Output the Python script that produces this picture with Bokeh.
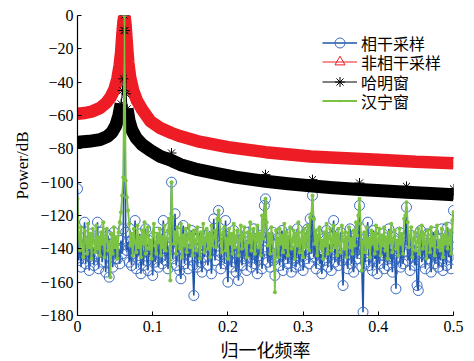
import numpy as np
from bokeh.plotting import figure
from bokeh.models import FixedTicker, Legend, LegendItem, Range1d
from bokeh.embed import file_html
from bokeh.resources import INLINE

# ---------------- data ----------------
n_bins = 321
freq = np.linspace(0, 0.5, n_bins)          # normalized frequency bins

coherent = [
    -104, -147, -133, -151, -141, -138, -124, -149, -136, -144, -153, -131, -146, -139, -150, -134, -143, -124, -152, -137,
    -130, -148, -142, -135, -154, -140, -132, -157, -145, -137, -151, -130, -146, -139, -146, -140, -149, -135, -143, -128,
    0, -130, -141, -136, -148, -139, -150, -134, -143, -123, -152, -138, -144, -131, -155, -136, -150, -141, -128, -147,
    -153, -135, -144, -139, -156, -133, -148, -142, -130, -151, -137, -145, -149, -123, -140, -147, -133, -152, -139, -144,
    -100, -146, -134, -119, -150, -141, -136, -153, -158, -138, -126, -149, -143, -131, -152, -137, -145, -129, -150, -168,
    -140, -134, -151, -143, -130, -148, -154, -136, -145, -139, -132, -150, -142, -135, -155, -138, -122, -147, -141, -133,
    -117, -144, -152, -137, -131, -149, -123, -146, -160, -139, -134, -151, -143, -129, -148, -154, -138, -159, -142, -135,
    -150, -133, -146, -140, -153, -130, -145, -137, -151, -142, -128, -149, -136, -155, -139, -144, -132, -152, -141, -114,
    -110, -139, -148, -134, -151, -143, -130, -147, -156, -137, -145, -133, -150, -140, -129, -153, -138, -146, -135, -149,
    -142, -131, -154, -139, -147, -136, -151, -128, -144, -150, -137, -133, -153, -141, -146, -130, -128, -149, -122, -143,
    -108, -145, -136, -152, -140, -131, -149, -143, -155, -134, -147, -139, -129, -151, -137, -144, -153, -132, -123, -148,
    -141, -135, -150, -144, -130, -147, -162, -138, -145, -133, -152, -140, -128, -149, -136, -154, -142, -131, -146, -139,
    -114, -143, -151, -178, -137, -148, -133, -124, -150, -141, -135, -153, -129, -146, -140, -155, -134, -149, -138, -144,
    -131, -152, -143, -137, -150, -128, -146, -140, -154, -133, -147, -164, -139, -145, -130, -151, -136, -149, -142, -134,
    -115, -147, -138, -153, -132, -145, -141, -150, -136, -162, -165, -139, -129, -148, -143, -135, -152, -140, -131, -146,
    -137, -154, -142, -130, -149, -144, -134, -151, -139, -147, -128, -153, -141, -136, -150, -127, -145, -138, -152, -133,
    -117,
]

hanning = [
    -110, -132, -141, -127, -138, -145, -129, -135, -143, -125, -139, -131, -146, -128, -136, -142, -126, -140, -133, -144,
    -130, -137, -124, -145, -134, -128, -141, -136, -157, -131, -143, -127, -139, -133, -146, -130, -124, -118, -108, -97,
    0, -99, -109, -117, -125, -138, -131, -144, -128, -136, -142, -126, -139, -133, -145, -129, -137, -124, -143, -132,
    -127, -140, -135, -146, -130, -125, -138, -143, -131, -136, -128, -144, -133, -139, -126, -141, -134, -129, -122, -159,
    -100, -121, -137, -130, -143, -127, -135, -140, -125, -145, -132, -138, -128, -142, -134, -126, -139, -131, -144, -129,
    -136, -141, -127, -133, -146, -130, -137, -125, -142, -135, -128, -140, -131, -145, -126, -138, -133, -129, -139, -122,
    -117, -123, -136, -142, -130, -127, -141, -134, -146, -128, -137, -131, -143, -125, -139, -133, -129, -144, -135, -126,
    -140, -132, -127, -138, -145, -130, -136, -124, -141, -133, -128, -143, -135, -126, -139, -131, -144, -120, -134, -121,
    -110, -124, -138, -131, -143, -127, -136, -141, -166, -129, -134, -145, -128, -137, -132, -142, -125, -139, -130, -144,
    -133, -127, -140, -135, -129, -146, -131, -138, -124, -142, -136, -130, -145, -128, -139, -133, -126, -141, -121, -119,
    -108, -122, -137, -129, -144, -132, -127, -140, -135, -146, -130, -138, -125, -143, -133, -128, -141, -136, -126, -139,
    -131, -144, -128, -137, -142, -126, -135, -140, -130, -145, -133, -127, -139, -134, -143, -129, -138, -124, -132, -120,
    -110, -125, -153, -136, -130, -142, -127, -139, -134, -145, -129, -137, -131, -143, -126, -140, -135, -128, -144, -132,
    -138, -127, -141, -133, -146, -130, -136, -125, -142, -134, -129, -140, -135, -144, -128, -137, -131, -143, -122, -120,
    -112, -124, -139, -132, -127, -145, -134, -130, -141, -136, -128, -143, -133, -126, -140, -131, -137, -146, -129, -135,
    -142, -127, -138, -133, -144, -130, -126, -139, -135, -141, -128, -145, -132, -137, -125, -140, -134, -129, -143, -123,
    -118,
]
assert len(coherent) == n_bins and len(hanning) == n_bins

nonco_x = [0.000, 0.010, 0.020, 0.030, 0.038, 0.044, 0.049, 0.053, 0.056,
           0.058, 0.0595, 0.0610, 0.0625, 0.0640, 0.0655, 0.0675, 0.070,
           0.074, 0.079, 0.086, 0.097, 0.110, 0.125, 0.137, 0.160, 0.200,
           0.250, 0.310, 0.350, 0.400, 0.450, 0.500]
nonco_y = [-59, -58.5, -57.5, -55.5, -52.5, -49, -44.5, -38, -30,
           -22, -12, -4, 0, -6, -16, -28, -37,
           -45, -51, -56.5, -63.5, -67.5, -70.5, -72.5, -75.5, -79,
           -82, -84.6, -85.5, -86.5, -87.8, -88.6]

hamming_x = [0.000, 0.015, 0.030, 0.040, 0.046, 0.051, 0.055, 0.058, 0.060,
             0.061, 0.062, 0.0625, 0.063, 0.0645, 0.066, 0.0685, 0.072, 0.078,
             0.086, 0.097, 0.110, 0.125, 0.137, 0.160, 0.1875, 0.210, 0.250,
             0.280, 0.3125, 0.340, 0.375, 0.410, 0.4375, 0.470, 0.500]
hamming_y = [-76, -75.5, -74.5, -72.5, -70, -66, -60, -53, -45,
             -38, -9, 0, -9, -47, -56, -63, -68.5, -73.5,
             -77.5, -81, -84.5, -87, -89.5, -92.5, -95, -97, -99.5,
             -101, -102.3, -103.3, -104.4, -105.3, -106.1, -106.8, -107.5]
# harmonic spurs visible above the Hamming curve
spur_x = [0.125, 0.250, 0.3125, 0.375, 0.4375, 0.500]
spur_y = [-82.5, -95.5, -98.5, -100.5, -102.5, -104]

x_ticks = [0, 0.1, 0.2, 0.3, 0.4, 0.5]
x_tick_labels = ["0", "0.1", "0.2", "0.3", "0.4", "0.5"]
y_ticks = [0, -20, -40, -60, -80, -100, -120, -140, -160, -180]
y_tick_labels = ["0", "\u221220", "\u221240", "\u221260", "\u221280", "\u2212100",
                 "\u2212120", "\u2212140", "\u2212160", "\u2212180"]

labels = ["相干采样", "非相干采样", "哈明窗", "汉宁窗"]

# ---------------- styles ----------------
BLUE = "#1f55a8"
BLUE_MK = "#3a6bc2"
RED = "#ee1d25"
BLACK = "#000000"
GREEN = "#7cc243"
SERIF = "Liberation Serif"
CJK = "Noto Sans CJK SC"

p = figure(frame_width=376, frame_height=300, output_backend="svg",
           toolbar_location=None,
           x_range=Range1d(0, 0.5), y_range=Range1d(-180, 0),
           min_border_left=77, min_border_right=21, min_border_top=15,
           min_border_bottom=44)
p.outline_line_color = None
p.grid.visible = False
p.background_fill_color = "white"
p.border_fill_color = "white"

# coherent (blue)
b_line = p.line(freq, coherent, line_color=BLUE, line_width=1.6)
b_mk = p.scatter(freq, coherent, marker="circle", size=10, line_color=BLUE_MK,
                 fill_color=None, line_width=1)

# non-coherent (red)
p.line(nonco_x, nonco_y, line_color=RED, line_width=12.5, line_join="round")
r_line = p.line(nonco_x, nonco_y, line_color=RED, line_width=1)
r_mk = p.scatter(nonco_x, nonco_y, marker="triangle", size=10, line_color=RED,
                 fill_color=None, line_width=1)

# hamming (black)
hy = np.array(hamming_y, dtype=float)
band = np.where(hy < -50, hy, np.nan)
p.line(hamming_x, band, line_color=BLACK, line_width=13, line_join="round")
k_line = p.line(hamming_x, hamming_y, line_color=BLACK, line_width=1)
k_mk = p.scatter(hamming_x, hamming_y, marker="asterisk", size=10,
                 line_color=BLACK, line_width=1)
p.scatter(spur_x, spur_y, marker="asterisk", size=10, line_color=BLACK,
          line_width=1)

# hanning (green)
g_line = p.line(freq, hanning, line_color=GREEN, line_width=1.8)
g_mk = p.scatter(freq, hanning, marker="dot", size=16, line_color=GREEN,
                 fill_color=GREEN)

# axes
p.xaxis.ticker = FixedTicker(ticks=x_ticks)
p.xaxis.major_label_overrides = dict(zip(x_ticks, x_tick_labels))
p.yaxis.ticker = FixedTicker(ticks=y_ticks)
p.yaxis.major_label_overrides = dict(zip(y_ticks, y_tick_labels))
for ax in (p.xaxis[0], p.yaxis[0]):
    ax.axis_line_color = "black"
    ax.axis_line_width = 1.2
    ax.major_tick_in = 4
    ax.major_tick_out = 0
    ax.major_tick_line_color = "black"
    ax.minor_tick_line_color = None
    ax.major_label_text_font = SERIF
    ax.major_label_text_font_size = "16px"
    ax.major_label_text_color = "black"
    ax.major_label_standoff = 4
    ax.axis_label_text_font_style = "normal"
    ax.axis_label_text_color = "black"
p.xaxis.axis_label = "归一化频率"
p.xaxis.axis_label_text_font = CJK
p.xaxis.axis_label_text_font_size = "18px"
p.xaxis.axis_label_standoff = 1
p.xaxis.major_label_standoff = 5
p.yaxis.axis_label = "Power/dB"
p.yaxis.axis_label_text_font = SERIF
p.yaxis.axis_label_text_font_size = "17px"
p.yaxis.axis_label_standoff = 5

# legend: one row per Legend so that the row spacing matches the reference
entries = [(labels[0], [b_line, b_mk], 260),
           (labels[1], [r_line, r_mk], 241),
           (labels[2], [k_line, k_mk], 221),
           (labels[3], [g_line, g_mk], 202)]
for text, rends, ypos in entries:
    lg = Legend(items=[LegendItem(label=text, renderers=rends)],
                location=(245, ypos))
    lg.label_text_font = CJK
    lg.label_text_font_size = "16px"
    lg.label_text_color = "black"
    lg.glyph_width = 35
    lg.glyph_height = 25
    lg.label_standoff = 4
    lg.spacing = 0
    lg.padding = 0
    lg.margin = 0
    lg.border_line_color = None
    lg.background_fill_alpha = 0
    p.add_layout(lg)

open("out.html", "w").write(file_html(p, INLINE))
